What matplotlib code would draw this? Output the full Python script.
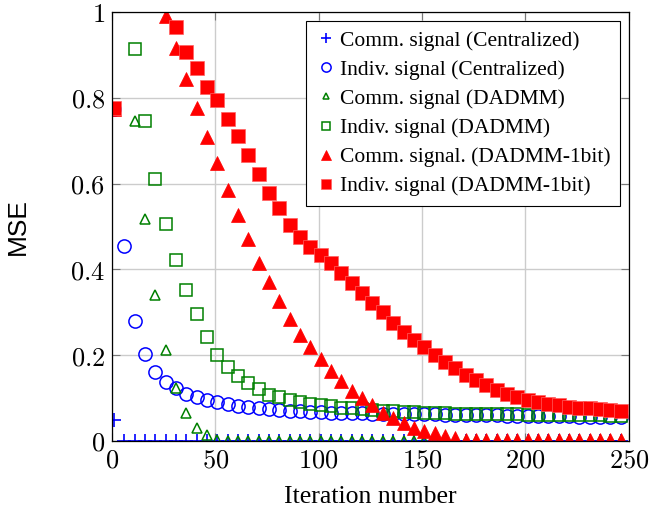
import numpy as np
import matplotlib
matplotlib.use("Agg")
import matplotlib.pyplot as plt
from matplotlib.ticker import FuncFormatter

plt.rcParams['mathtext.fontset'] = 'cm'

# ітерації, на яких поставлено маркери
iterations = np.arange(1, 250, 5)

comm_central = [0.05] + [0.0] * 49

indiv_central = [0.775, 0.455, 0.280, 0.203, 0.161, 0.138, 0.123, 0.110, 0.103, 0.096,
                 0.091, 0.086, 0.082, 0.080, 0.077, 0.075, 0.073, 0.071, 0.070, 0.068,
                 0.067, 0.066, 0.066, 0.065, 0.065, 0.064, 0.064, 0.063, 0.063, 0.062,
                 0.062, 0.062, 0.061, 0.061, 0.061, 0.060, 0.060, 0.060, 0.059, 0.059,
                 0.059, 0.058, 0.058, 0.058, 0.058, 0.057, 0.057, 0.057, 0.057, 0.057]

comm_dadmm = [0.775, 1.10, 0.746, 0.517, 0.340, 0.212, 0.124, 0.065, 0.030, 0.013,
              0.003] + [0.001] * 39

indiv_dadmm = [0.775, 1.10, 0.913, 0.746, 0.611, 0.506, 0.423, 0.352, 0.296, 0.243,
               0.200, 0.173, 0.152, 0.136, 0.121, 0.107, 0.102, 0.096, 0.091, 0.086,
               0.084, 0.081, 0.078, 0.076, 0.074, 0.072, 0.070, 0.069, 0.068, 0.067,
               0.066, 0.066, 0.065, 0.064, 0.064, 0.063, 0.063, 0.062, 0.062, 0.062,
               0.061, 0.061, 0.061, 0.060, 0.060, 0.060, 0.060, 0.060, 0.059, 0.059]

comm_1bit = [0.775, 1.30, 1.21, 1.14, 1.065, 0.991, 0.917, 0.844, 0.776, 0.709,
             0.648, 0.585, 0.527, 0.471, 0.415, 0.370, 0.326, 0.284, 0.247, 0.219,
             0.191, 0.163, 0.140, 0.117, 0.100, 0.084, 0.066, 0.054, 0.042, 0.031,
             0.024, 0.018, 0.012, 0.007, 0.003] + [0.002] * 15

indiv_1bit = [0.776, 1.40, 1.27, 1.18, 1.10, 1.03, 0.965, 0.907, 0.870, 0.825,
              0.795, 0.751, 0.711, 0.667, 0.622, 0.578, 0.543, 0.503, 0.476, 0.452,
              0.434, 0.414, 0.392, 0.368, 0.345, 0.322, 0.300, 0.276, 0.254, 0.235,
              0.218, 0.200, 0.184, 0.170, 0.154, 0.142, 0.130, 0.119, 0.110, 0.102,
              0.095, 0.090, 0.086, 0.083, 0.080, 0.078, 0.076, 0.074, 0.072, 0.070]

series = [
    (comm_central, 'Comm. signal (Centralized)', dict(marker='+', color='blue', ms=10, mew=1.2)),
    (indiv_central, 'Indiv. signal (Centralized)', dict(marker='o', color='blue', mfc='none', ms=9.5, mew=1.1)),
    (comm_dadmm, 'Comm. signal (DADMM)', dict(marker='^', color='green', mfc='none', ms=7, mew=1.1)),
    (indiv_dadmm, 'Indiv. signal (DADMM)', dict(marker='s', color='green', mfc='none', ms=8.5, mew=1.1)),
    (comm_1bit, 'Comm. signal. (DADMM-1bit)', dict(marker='^', color='red', ms=9.5, mew=0.5)),
    (indiv_1bit, 'Indiv. signal (DADMM-1bit)', dict(marker='s', color='red', ms=10.5, mew=0.5, mec='#ff6060')),
]

fig = plt.figure(figsize=(6.51, 5.21), dpi=100)
ax = fig.add_axes([0.172, 0.1536, 0.794, 0.8234])

for values, label, style in series:
    ax.plot(iterations, values, linestyle='none', label=label, **style)

ax.set_xlim(0, 250)
ax.set_ylim(0, 1)
ax.set_xticks([0, 50, 100, 150, 200, 250])
ax.set_yticks([0, 0.2, 0.4, 0.6, 0.8, 1])
fmt = FuncFormatter(lambda v, pos: f'${v:g}$')
ax.xaxis.set_major_formatter(fmt)
ax.yaxis.set_major_formatter(fmt)
ax.tick_params(direction='in', top=True, right=True, labelsize=19, length=6,
               color='#777777', pad=5)
ax.grid(True, color='#cccccc', linewidth=1)
ax.set_axisbelow(True)
for sp in ax.spines.values():
    sp.set_linewidth(0.9)

ax.set_xlabel('Iteration number', family='Liberation Serif', fontsize=18.5)
ax.xaxis.set_label_coords(0.5, -0.105)
ax.set_ylabel('MSE', family='Liberation Sans', fontsize=19)
ax.yaxis.set_label_coords(-0.159, 0.5)

leg = ax.legend(loc='upper right', bbox_to_anchor=(0.983, 0.979), borderaxespad=0,
                prop={'family': 'Liberation Serif', 'size': 15.5}, fancybox=False,
                edgecolor='black', framealpha=1, markerscale=0.7, handlelength=0.9,
                handletextpad=0.2, borderpad=0.45, labelspacing=0.42)
leg.get_frame().set_linewidth(0.8)

fig.savefig('out.png', dpi=100)
